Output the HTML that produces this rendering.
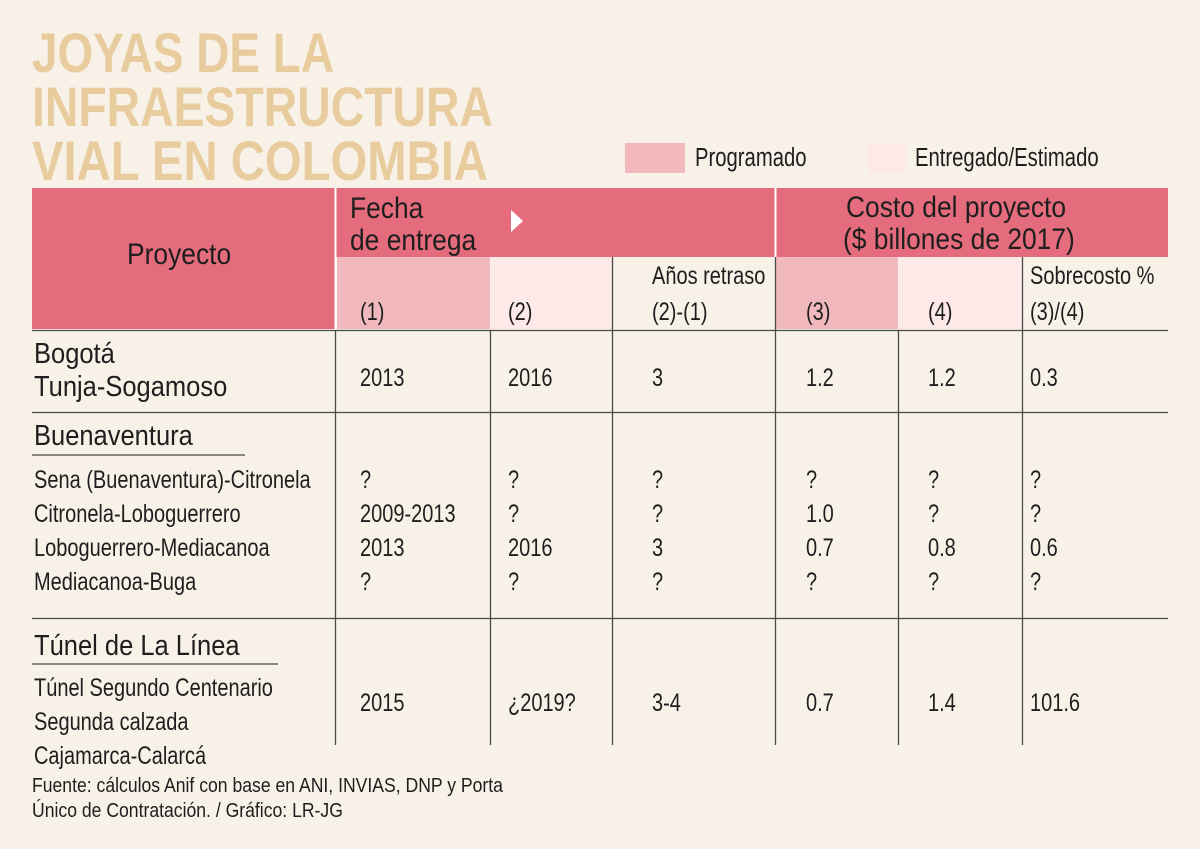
<!DOCTYPE html>
<html><head><meta charset="utf-8"><style>
html,body{margin:0;padding:0;background:#f7f1e8;}
svg{display:block;}
text{font-family:"Liberation Sans",sans-serif;fill:#1e1e1e;}
</style></head><body>
<svg id="s" width="1200" height="849" viewBox="0 0 1200 849">
<rect width="1200" height="849" fill="#f7f1e8"/>
<g fill="#e8cc9e" font-weight="bold" font-size="56">
<text x="32" y="72" textLength="302" lengthAdjust="spacingAndGlyphs" style="fill:#e8cc9e;font-weight:bold">JOYAS DE LA</text>
<text x="32" y="126" textLength="461" lengthAdjust="spacingAndGlyphs" style="fill:#e8cc9e;font-weight:bold">INFRAESTRUCTURA</text>
<text x="32" y="180" textLength="456" lengthAdjust="spacingAndGlyphs" style="fill:#e8cc9e;font-weight:bold">VIAL EN COLOMBIA</text>
</g>
<rect x="625" y="143" width="60" height="30" fill="#f1b8bd"/>
<rect x="868" y="143" width="38" height="30" fill="#fce9e8"/>
<rect x="32" y="188" width="1136" height="69" fill="#e46c7c"/>
<rect x="32" y="257" width="303" height="72" fill="#e46c7c"/>
<rect x="337" y="257" width="153" height="72" fill="#f1b8bd"/>
<rect x="491" y="257" width="121" height="72" fill="#fce9e8"/>
<rect x="776" y="257" width="122" height="72" fill="#f1b8bd"/>
<rect x="899" y="257" width="123" height="72" fill="#fce9e8"/>
<line x1="335.5" y1="188" x2="335.5" y2="329" stroke="#fff" stroke-width="2"/>
<line x1="775.5" y1="188" x2="775.5" y2="257" stroke="#fff" stroke-width="2"/>
<polygon points="511,210 523,221 511,232" fill="#fff"/>
<g id="lines" stroke="#4a4a4a" stroke-width="1.3"></g>
<g id="texts"></g>
</svg>
<script>
const hLines=[330,412,618];
const vCols=[[335,330],[490,330],[612,257],[775,257],[898,330],[1022,257]];
const NS="http://www.w3.org/2000/svg";
const lg=document.getElementById('lines');
hLines.forEach(y=>{const l=document.createElementNS(NS,'line');l.setAttribute('x1',32);l.setAttribute('x2',1168);l.setAttribute('y1',y+.5);l.setAttribute('y2',y+.5);


lg.appendChild(l);});
vCols.forEach(c=>{const l=document.createElementNS(NS,'line');l.setAttribute('x1',c[0]+.5);l.setAttribute('x2',c[0]+.5);l.setAttribute('y1',c[1]);l.setAttribute('y2',745);


lg.appendChild(l);});
[[32,455,245],[32,664,278]].forEach(u=>{const l=document.createElementNS(NS,'line');l.setAttribute('x1',u[0]);l.setAttribute('x2',u[2]);l.setAttribute('y1',u[1]);l.setAttribute('y2',u[1]);


lg.appendChild(l);});
// x, baseline, text, size, scaleX, name
const T=[
[695,166,'Programado',26,.78,'legend-label-programado'],
[915,166,'Entregado/Estimado',26,.78,'legend-label-entregado'],
[127,264,'Proyecto',30,.88,'proyecto-header'],
[350,218,'Fecha',30,.88,'fecha-header'],
[350,250,'de entrega',30,.88,'fecha-header-2'],
[846,217,'Costo del proyecto',30,.88,'costo-header'],
[843,249,'($ billones de 2017)',30,.88,'costo-header-2'],
[360,320,'(1)',25,.8,'col1-label'],
[508,320,'(2)',25,.8,'col2-label'],
[652,284,'Años retraso',25,.8,'retraso-label'],
[652,320,'(2)-(1)',25,.8,'retraso-formula'],
[806,320,'(3)',25,.8,'col3-label'],
[928,320,'(4)',25,.8,'col4-label'],
[1030,284,'Sobrecosto %',25,.8,'sobrecosto-label'],
[1030,320,'(3)/(4)',25,.8,'sobrecosto-formula'],
[34,363,'Bogotá',29,.88,'row-bogota'],
[34,396,'Tunja-Sogamoso',29,.88,'row-bogota-2'],
[34,445,'Buenaventura',29,.88,'group-buenaventura'],
[34,655,'Túnel de La Línea',29,.88,'group-tunel'],
[34,488,'Sena (Buenaventura)-Citronela',25,.8,'row-sena'],
[34,522,'Citronela-Loboguerrero',25,.8,'row-citronela'],
[34,556,'Loboguerrero-Mediacanoa',25,.8,'row-loboguerrero'],
[34,590,'Mediacanoa-Buga',25,.8,'row-mediacanoa'],
[34,696,'Túnel Segundo Centenario',25,.8,'row-tunel-segundo'],
[34,730,'Segunda calzada',25,.8,'row-tunel-2'],
[34,764,'Cajamarca-Calarcá',25,.8,'row-tunel-3'],
[32,792,'Fuente: cálculos Anif con base en ANI, INVIAS, DNP y Porta',20,.88,'source-note'],
[32,817,'Único de Contratación. / Gráfico: LR-JG',20,.88,'credit-note']
];
const colX=[360,508,652,806,928,1030];
const rowY=[386,488,522,556,590,711];
const values=[
['2013','2016','3','1.2','1.2','0.3'],
['?','?','?','?','?','?'],
['2009-2013','?','?','1.0','?','?'],
['2013','2016','3','0.7','0.8','0.6'],
['?','?','?','?','?','?'],
['2015','¿2019?','3-4','0.7','1.4','101.6']
];
values.forEach((r,i)=>r.forEach((v,j)=>T.push([colX[j],rowY[i],v,25,.8,'cell-value'])));
const tg=document.getElementById('texts');
T.forEach(t=>{const e=document.createElementNS(NS,'text');
e.setAttribute('transform','translate('+t[0]+','+t[1]+') scale('+t[4]+',1)');
e.setAttribute('font-size',t[3]);e.textContent=t[2];


tg.appendChild(e);});
</script>
</body></html>
